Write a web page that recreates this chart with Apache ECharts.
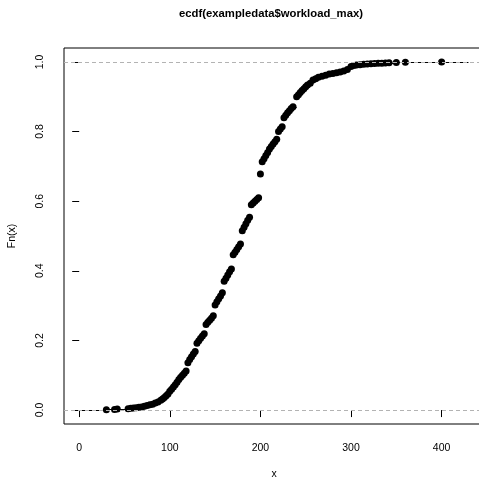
<!DOCTYPE html>
<html><head><meta charset="utf-8">
<script src="https://cdn.jsdelivr.net/npm/echarts@6/dist/echarts.min.js"></script>
<style>html,body{margin:0;padding:0;background:#fff}#c{width:479px;height:479px}</style>
</head><body><div id="c"></div>
<script>
// ECDF knots (sorted distinct values) and Fn at each knot
const knots = [30,39,42,54,57,60,63,66,69,72,75,78,81,84,87,90,92,94,96,98,
  100,102,104,106,108,110,112,114,116,118,120,122,124,126,128,130,132,134,136,138,
  140,142,144,146,148,150,152,154,156,158,160,162,164,166,168,170,172,174,176,178,
  180,182,184,186,188,190,192,194,196,198,200,202,204,206,208,210,212,214,216,218,
  220,222,224,226,228,230,232,234,236,240,242,244,246,248,250,252,255,258,261,264,
  268,272,276,280,284,288,292,296,300,303,306,310,314,318,322,326,330,334,338,342,
  350,360,400];
const fn = [0.001,0.002,0.003,0.004,0.005,0.006,0.007,0.008,0.009,0.011,0.013,0.015,0.017,0.020,0.023,0.028,0.032,0.036,0.041,0.046,
  0.054,0.060,0.066,0.073,0.080,0.088,0.094,0.100,0.106,0.112,0.136,0.145,0.153,0.161,0.168,0.192,0.199,0.206,0.213,0.219,
  0.246,0.252,0.258,0.264,0.271,0.302,0.311,0.320,0.328,0.337,0.370,0.379,0.388,0.397,0.405,0.446,0.453,0.461,0.469,0.477,
  0.515,0.525,0.535,0.545,0.554,0.590,0.595,0.600,0.605,0.610,0.678,0.713,0.722,0.731,0.740,0.750,0.757,0.764,0.771,0.778,
  0.800,0.807,0.814,0.840,0.847,0.854,0.860,0.866,0.871,0.900,0.906,0.912,0.918,0.923,0.929,0.934,0.939,0.948,0.952,0.956,
  0.959,0.962,0.965,0.967,0.969,0.971,0.974,0.978,0.987,0.990,0.991,0.992,0.993,0.994,0.995,0.9955,0.996,0.9965,0.997,0.9975,
  0.998,0.999,1.0];
const xTicks = [0,100,200,300,400];
const yTicks = [0,0.2,0.4,0.6,0.8,1.0];
const titleText = 'ecdf(exampledata$workload_max)';
const xName = 'x';
const yName = 'Fn(x)';

const n = knots.length;
const dr = 0.08*(knots[n-1]-knots[0]);
const xlo = knots[0]-dr, xhi = knots[n-1]+dr;
const pad = 0.04*(xhi-xlo);
const steps = [{coords:[[xlo,0],[knots[0],0]]}];
for (let i=0;i<n-1;i++) steps.push({coords:[[knots[i],fn[i]],[knots[i+1],fn[i]]]});
steps.push({coords:[[knots[n-1],fn[n-1]],[xhi,fn[n-1]]]});
const pts = knots.map((k,i)=>[k,fn[i]]);

const FF = '"Liberation Sans", Arial, Helvetica, sans-serif';
const chart = echarts.init(document.getElementById('c'), null, {renderer:'canvas'});
chart.setOption({
  animation:false,
  backgroundColor:'#fff',
  title:{text:titleText,left:266,top:3,textAlign:'center',
    textStyle:{fontFamily:FF,fontSize:11.3,fontWeight:'bold',color:'#000'}},
  grid:{left:64,width:420,top:48,height:376,show:true,borderColor:'#000',borderWidth:1,
    containLabel:false,outerBoundsMode:'none'},
  xAxis:{type:'value',min:xlo-pad,max:xhi+pad,
    axisLine:{show:false},splitLine:{show:false},
    axisTick:{show:true,customValues:xTicks,length:7,lineStyle:{color:'#000',width:1}},
    axisLabel:{customValues:xTicks,margin:18.5,color:'#000',fontFamily:FF,fontSize:10.5},
    name:xName,nameLocation:'middle',nameGap:45,nameTextStyle:{fontFamily:FF,fontSize:10.5,color:'#000'}},
  yAxis:{type:'value',min:-0.04,max:1.04,
    axisLine:{show:false},splitLine:{show:false},
    axisTick:{show:true,customValues:yTicks,length:7,lineStyle:{color:'#000',width:1}},
    axisLabel:{customValues:yTicks,margin:18,rotate:90,color:'#000',fontFamily:FF,fontSize:10.5,
      formatter:v=>Number(v).toFixed(1)},
    name:yName,nameLocation:'middle',nameGap:46,nameRotate:90,nameTextStyle:{fontFamily:FF,fontSize:10.5,color:'#000'}},
  series:[
    {type:'lines',coordinateSystem:'cartesian2d',silent:true,z:2,
      lineStyle:{color:'#000',width:1,opacity:1},data:steps},
    {type:'scatter',silent:true,z:3,symbol:'circle',symbolSize:7,
      itemStyle:{color:'#000',opacity:1},data:pts,
      markLine:{silent:true,symbol:['none','none'],label:{show:false},
        lineStyle:{color:'#b3b3b3',type:[4,3],width:1},
        data:[{yAxis:0},{yAxis:1}]}}
  ]
});
</script></body></html>
